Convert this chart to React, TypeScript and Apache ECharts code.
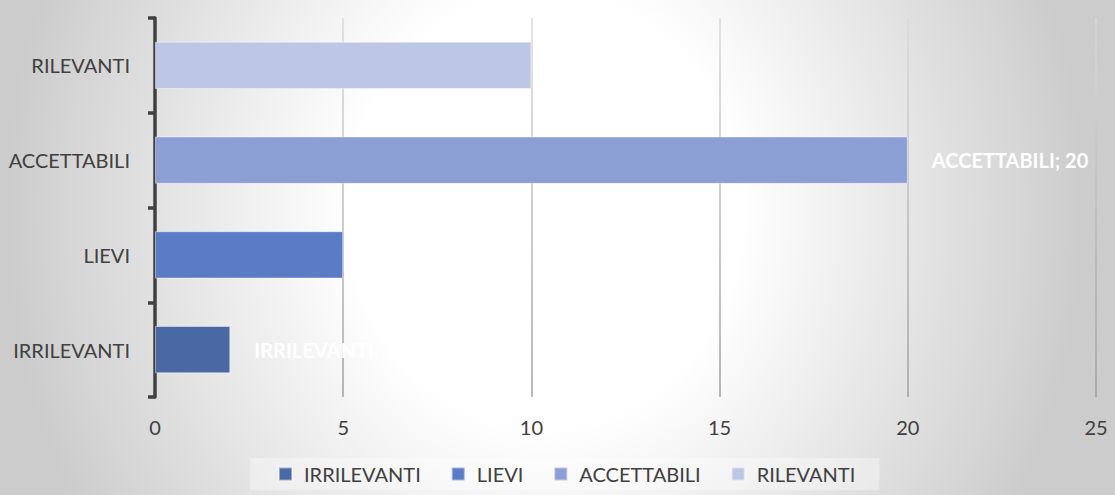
import React, { useEffect, useRef } from "react";
import * as echarts from "echarts";

const categories = ["IRRILEVANTI", "LIEVI", "ACCETTABILI", "RILEVANTI"];
const seriesNames = ["IRRILEVANTI", "LIEVI", "ACCETTABILI", "RILEVANTI"];
const irrilevanti = [2, "-", "-", "-"];
const lievi = ["-", 5, "-", "-"];
const accettabili = ["-", "-", 20, "-"];
const rilevanti = ["-", "-", "-", 10];
const seriesColors = ["#4a69a4", "#5a7cc5", "#8b9fd4", "#bdc6e4"];
const xTicks = { min: 0, max: 25, interval: 5 };

const FONT = "Lato, 'Noto Sans', sans-serif";
const TEXT = "#404040";

export default function App() {
  const ref = useRef<HTMLDivElement>(null);
  useEffect(() => {
    document.body.style.margin = "0";
    const chart = echarts.init(ref.current!, null, { renderer: "svg" });
    const values = [irrilevanti, lievi, accettabili, rilevanti];
    const gridGrad = new echarts.graphic.LinearGradient(
      0, 18, 0, 397,
      [
        { offset: 0, color: "#dadada" },
        { offset: 1, color: "#a0a0a0" },
      ],
      true
    );
    chart.setOption({
      animation: false,
      backgroundColor: "transparent",
      textStyle: { fontFamily: FONT },
      grid: { left: 155, right: 19, top: 18, bottom: 98, containLabel: false },
      legend: {
        top: 458,
        left: 250,
        padding: [6, 24, 6, 28],
        backgroundColor: "rgba(255,255,255,0.35)",
        itemWidth: 13,
        itemHeight: 13,
        itemGap: 30,
        icon: "rect",
        textStyle: { fontSize: 20, color: TEXT, fontFamily: FONT, padding: [0, 0, 0, 7] },
        data: seriesNames,
      },
      xAxis: {
        type: "value",
        min: xTicks.min,
        max: xTicks.max,
        interval: xTicks.interval,
        axisLine: { show: false },
        axisTick: { show: false },
        splitLine: { show: true, lineStyle: { color: gridGrad, width: 1.5 } },
        axisLabel: { fontSize: 20, color: TEXT, fontFamily: FONT, margin: 20 },
      },
      yAxis: {
        type: "category",
        data: categories,
        axisLine: { show: true, lineStyle: { color: TEXT, width: 3.5 } },
        axisTick: { show: true, length: 7, lineStyle: { color: TEXT, width: 3.5 } },
        axisLabel: { fontSize: 20, color: TEXT, fontFamily: FONT, margin: 25 },
      },
      series: seriesNames.map((name, i) => ({
        name,
        type: "bar",
        stack: "total",
        data: values[i],
        barWidth: "50%",
        itemStyle: {
          color: seriesColors[i],
          borderColor: "rgba(255,255,255,0.45)",
          borderWidth: 1,
        },
        label: {
          show: true,
          position: "right",
          distance: 24,
          formatter: "{a}; {c}",
          color: "#ffffff",
          fontWeight: "bold",
          fontSize: 20,
          fontFamily: FONT,
        },
      })),
    });
    return () => chart.dispose();
  }, []);
  return (
    <div
      ref={ref}
      style={{
        position: "absolute",
        left: 0,
        top: 0,
        width: 1115,
        height: 495,
        background:
          "radial-gradient(ellipse 540px 600px at 545px 210px, #ffffff 0%, #ffffff 36%, #cccccc 100%)",
      }}
    />
  );
}
